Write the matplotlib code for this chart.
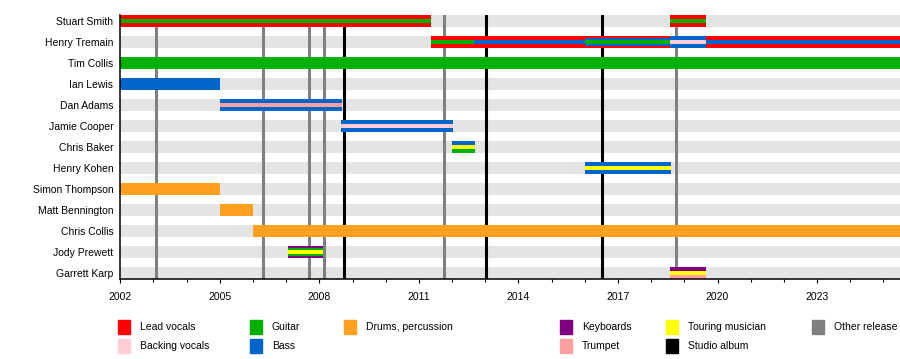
import matplotlib.pyplot as plt
from matplotlib.patches import Rectangle

plt.rcParams['font.family'] = ['Liberation Sans', 'DejaVu Sans']
plt.rcParams['font.size'] = 7.5

START = 2002
END = 2025.5

members = ['Stuart Smith', 'Henry Tremain', 'Tim Collis', 'Ian Lewis', 'Dan Adams',
           'Jamie Cooper', 'Chris Baker', 'Henry Kohen', 'Simon Thompson',
           'Matt Bennington', 'Chris Collis', 'Jody Prewett', 'Garrett Karp']

role_colors = {
    'Lead vocals': '#ff0000',
    'Backing vocals': '#ffcdd6',
    'Guitar': '#00b000',
    'Bass': '#0066cc',
    'Drums, percussion': '#ffa020',
    'Keyboards': '#800080',
    'Trumpet': '#ff9f9f',
    'Touring musician': '#ffff00',
    'Studio album': '#000000',
    'Other release': '#808080',
}

# (member, start, end, roles from outer to inner)
stints = [
    ('Stuart Smith', 2002.0, 2011.36, ['Lead vocals', 'Guitar']),
    ('Stuart Smith', 2018.56, 2019.64, ['Lead vocals', 'Guitar']),
    ('Henry Tremain', 2011.36, 2012.65, ['Lead vocals', 'Guitar']),
    ('Henry Tremain', 2012.65, 2016.0, ['Lead vocals', 'Bass']),
    ('Henry Tremain', 2016.0, 2018.56, ['Lead vocals', 'Bass', 'Guitar']),
    ('Henry Tremain', 2018.56, 2019.64, ['Bass', 'Backing vocals']),
    ('Henry Tremain', 2019.64, END, ['Lead vocals', 'Bass']),
    ('Tim Collis', 2002.0, END, ['Guitar']),
    ('Ian Lewis', 2002.0, 2005.0, ['Bass']),
    ('Dan Adams', 2005.0, 2008.68, ['Bass', 'Trumpet']),
    ('Jamie Cooper', 2008.65, 2012.02, ['Bass', 'Backing vocals']),
    ('Henry Kohen', 2016.0, 2018.59, ['Bass', 'Touring musician']),
    ('Simon Thompson', 2002.0, 2005.0, ['Drums, percussion']),
    ('Matt Bennington', 2005.0, 2006.0, ['Drums, percussion']),
    ('Chris Collis', 2006.0, END, ['Drums, percussion']),
    ('Jody Prewett', 2007.06, 2008.1, ['Keyboards', 'Guitar', 'Touring musician']),
]

# bars split top / bottom with a middle stripe
split_stints = [
    ('Chris Baker', 2012.0, 2012.69, ['Bass', 'Guitar', 'Touring musician']),
    ('Garrett Karp', 2018.56, 2019.64, ['Keyboards', 'Trumpet', 'Touring musician']),
]

studio_albums = [2008.74, 2013.02, 2016.52]
other_releases = [2003.08, 2006.31, 2007.69, 2008.14, 2011.76, 2018.75]

legend_columns = [
    ['Lead vocals', 'Backing vocals'],
    ['Guitar', 'Bass'],
    ['Drums, percussion'],
    ['Keyboards', 'Trumpet'],
    ['Touring musician', 'Studio album'],
    ['Other release'],
]

W, H = 900, 359
fig = plt.figure(figsize=(W / 100, H / 100), dpi=100)
ax = fig.add_axes([120.3 / W, 1 - 279 / H, 1 - 120.3 / W, 264 / H])

row = {name: i for i, name in enumerate(members)}
full = 12 / 21

for i in range(len(members)):
    ax.barh(i, END - START, left=START, height=full, color='#e4e4e4', zorder=0)

for x in other_releases:
    ax.axvline(x, color=role_colors['Other release'], lw=2.2, zorder=1)
for x in studio_albums:
    ax.axvline(x, color=role_colors['Studio album'], lw=2.2, zorder=1)

for name, s, e, roles in stints:
    n = len(roles)
    for k, r in enumerate(roles):
        h = full if k == 0 else full * (n - k) / 3
        ax.barh(row[name], e - s, left=s, height=h, color=role_colors[r], zorder=2 + k)

for name, s, e, roles in split_stints:
    y = row[name]
    ax.barh(y - full / 4, e - s, left=s, height=full / 2, color=role_colors[roles[0]], zorder=2)
    ax.barh(y + full / 4, e - s, left=s, height=full / 2, color=role_colors[roles[1]], zorder=2)
    ax.barh(y, e - s, left=s, height=full / 3, color=role_colors[roles[2]], zorder=3)

ax.set_xlim(START, END)
ax.set_ylim(len(members) - 1 + 6 / 21, -6 / 21)
ax.set_yticks(range(len(members)))
ax.set_yticklabels(members)
ax.tick_params(axis='y', length=0, pad=5)
ax.set_xticks(range(2002, 2024, 3))
ax.set_xticks(range(2002, 2026), minor=True)
ax.tick_params(axis='x', which='major', length=3, width=0.8, pad=6)
ax.tick_params(axis='x', which='minor', length=2, width=0.8)
for side in ['top', 'right']:
    ax.spines[side].set_visible(False)
for side in ['left', 'bottom']:
    ax.spines[side].set_linewidth(1.1)
    ax.spines[side].set_zorder(10)

lax = fig.add_axes([0, 0, 1, 1])
lax.set_xlim(0, W)
lax.set_ylim(H, 0)
lax.axis('off')
col_x = [118, 250, 344, 560, 666, 812]
row_y = [327, 346]
for cx, labels in zip(col_x, legend_columns):
    for ry, lab in zip(row_y, labels):
        lax.add_patch(Rectangle((cx, ry - 7), 12, 14, color=role_colors[lab]))
        lax.text(cx + 22, ry, lab, va='center', ha='left')

fig.savefig('out.png', dpi=100)
